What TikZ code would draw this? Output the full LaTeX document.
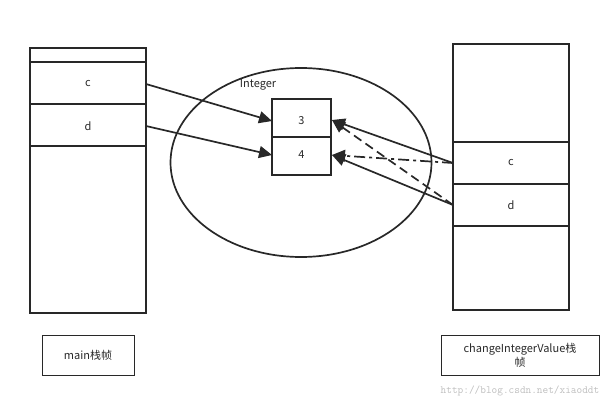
\documentclass[tikz,border=0pt]{standalone}
\usepackage{fontspec}
\setmainfont{Noto Sans CJK SC}
\usetikzlibrary{arrows.meta}
\begin{document}
\begin{tikzpicture}[x=1pt,y=-1pt,line width=1.7pt,draw={rgb,255:red,40;green,40;blue,40},
 lbl/.style={font=\fontsize{11}{14}\selectfont,text={rgb,255:red,40;green,40;blue,40}},
 arr/.style={-{Triangle[length=13pt,width=12pt]}}]
\useasboundingbox (0,0) rectangle (611,412);
% left stack
\draw (30,48) rectangle (146,313);
\draw (30,62)--(146,62) (30,104)--(146,104) (30,146)--(146,146);
\node[lbl] (lc) at (88,84) {c};
\node[lbl] (ld) at (88,126) {d};
\coordinate (lcr) at (146,84);
\coordinate (ldr) at (146,126);
% right stack
\draw (453,44) rectangle (569,310);
\draw (453,142)--(569,142) (453,184)--(569,184) (453,226)--(569,226);
\node[lbl] (rc) at (511,163) {c};
\node[lbl] (rd) at (511,205) {d};
\coordinate (rcl) at (453,163);
\coordinate (rdl) at (453,205);
% ellipse
\draw (301,162.5) ellipse [x radius=130.5, y radius=94.5];
\node[lbl] (int) at (258,85) {Integer};
\draw (272,99) rectangle (331,175);
\draw (272,137)--(331,137);
\node[lbl] (n3) at (301.5,121) {3};
\node[lbl] (n4) at (301.5,155) {4};
\coordinate (b3l) at (272,121);
\coordinate (b4l) at (272,155);
\coordinate (b3r) at (332,120);
\coordinate (b4r) at (332,155);
\draw[arr] (lcr) -- (b3l);
\draw[arr] (ldr) -- (b4l);
\draw[arr] (rcl) -- (b3r);
\draw[arr] (rdl) -- (b4r);
\draw[arr,dash pattern=on 9pt off 5pt] (rdl) -- (b3r);
\draw[arr,dash pattern=on 11pt off 4pt on 3pt off 4pt] (rcl) -- (b4r);
% labels
\draw[line width=1pt] (42,335) rectangle (134,375);
\node[lbl] (mainl) at (88,355) {main栈帧};
\draw[line width=1pt] (441,335) rectangle (599,375);
\node[lbl,align=center] (chl) at (520,355) {changeIntegerValue栈\\帧};
\node[font=\fontsize{11}{13}\selectfont\ttfamily,text={rgb,255:red,190;green,190;blue,190}] (wm) at (520,391) {http://blog.csdn.net/xiaoddt};
\end{tikzpicture}
\end{document}
